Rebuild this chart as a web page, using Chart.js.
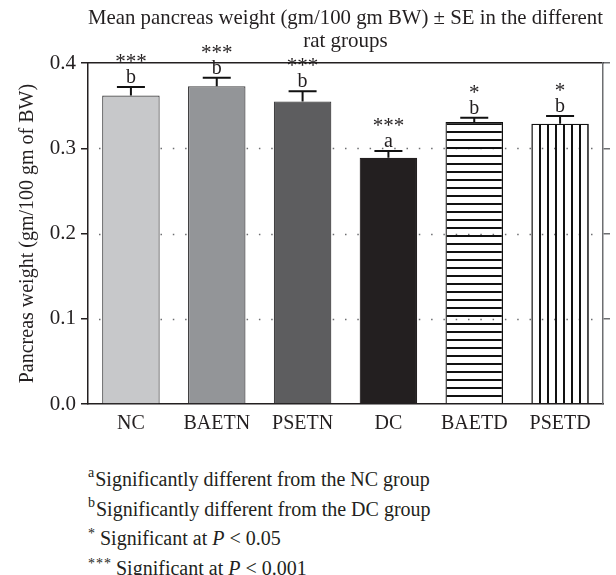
<!DOCTYPE html>
<html>
<head>
<meta charset="utf-8">
<script src="https://cdn.jsdelivr.net/npm/chart.js@4"></script>
<style>
  body { margin: 0; background: #fff; }
  #wrap { position: relative; width: 616px; height: 575px; }
  #chart { position: absolute; left: 0; top: 0; }
  .notes { position: absolute; left: 88px; top: 466px; font: 20px "Liberation Serif", serif; line-height: 26.5px; color: #231f20; }
  .notes div { white-space: nowrap; }
  .sup { position: relative; top: -9px; font-size: 14px; margin-right: 1px; }
  .st { position: relative; top: -7px; font-size: 14px; letter-spacing: 1px; margin-right: 4px; }
</style>
</head>
<body>
<div id="wrap">
  <canvas id="chart" width="616" height="445"></canvas>
  <div class="notes">
    <div><span class="sup">a</span>Significantly different from the NC group</div>
    <div><span class="sup">b</span>Significantly different from the DC group</div>
    <div><span class="st">*</span>Significant at <i>P</i> &lt; 0.05</div>
    <div><span class="st">***</span>Significant at <i>P</i> &lt; 0.001</div>
  </div>
</div>
<script>
var groups = ["NC", "BAETN", "PSETN", "DC", "BAETD", "PSETD"];
var meanWeight = [0.362, 0.373, 0.355, 0.289, 0.331, 0.329];
var seWeight = [0.010, 0.010, 0.012, 0.008, 0.005, 0.009];
var letterMarks = ["b", "b", "b", "a", "b", "b"];
var starCount = [3, 3, 3, 3, 1, 1];
var yTicks = [0, 0.1, 0.2, 0.3, 0.4];

var serif = '"Liberation Serif", serif';
var ink = '#231f20';

function stripes(vertical) {
    var c = document.createElement('canvas');
    c.width = 8; c.height = 8;
    var g = c.getContext('2d');
    g.fillStyle = '#111';
    if (vertical) g.fillRect(3, 0, 2, 8); else g.fillRect(0, 3, 8, 2);
    return g.createPattern(c, 'repeat');
}

var dottedGrid = {
    id: 'dottedGrid',
    beforeDatasetsDraw: function(chart) {
        var ctx = chart.ctx, area = chart.chartArea, y = chart.scales.y;
        ctx.save();
        ctx.strokeStyle = '#6d6e71';
        ctx.lineWidth = 1.5;
        ctx.setLineDash([1.5, 10.8]);
        yTicks.forEach(function(v) {
            if (v <= 0 || v >= 0.4) return;
            var py = Math.round(y.getPixelForValue(v)) + 0.5;
            ctx.beginPath();
            ctx.moveTo(area.left + 11, py);
            ctx.lineTo(area.right, py);
            ctx.stroke();
        });
        ctx.restore();
    }
};

var marks = {
    id: 'marks',
    afterDatasetsDraw: function(chart) {
        var ctx = chart.ctx, y = chart.scales.y;
        var bars = chart.getDatasetMeta(0).data;
        ctx.save();
        ctx.strokeStyle = '#111';
        ctx.lineWidth = 2;
        bars.forEach(function(bar, i) {
            var top = y.getPixelForValue(meanWeight[i] + seWeight[i]);
            ctx.beginPath();
            ctx.moveTo(bar.x, y.getPixelForValue(meanWeight[i]));
            ctx.lineTo(bar.x, top);
            ctx.moveTo(bar.x - 14, top);
            ctx.lineTo(bar.x + 14, top);
            ctx.stroke();
        });
        ctx.restore();
    },
    afterDraw: function(chart) {
        var ctx = chart.ctx, y = chart.scales.y;
        var bars = chart.getDatasetMeta(0).data;
        ctx.save();
        ctx.fillStyle = ink;
        ctx.textAlign = 'center';
        ctx.textBaseline = 'alphabetic';
        bars.forEach(function(bar, i) {
            var base = y.getPixelForValue(meanWeight[i] + seWeight[i]) - 4;
            ctx.font = '20px ' + serif;
            ctx.fillText(letterMarks[i], bar.x, base);
            ctx.font = '21px ' + serif;
            var n = starCount[i], pitch = 10.5;
            for (var k = 0; k < n; k++) {
                ctx.fillText('*', bar.x + (k - (n - 1) / 2) * pitch, base - 15);
            }
        });
        ctx.restore();
    }
};

var config = {
    type: 'bar',
    data: {
        labels: groups,
        datasets: [
            {
                label: "Pancreas weight",
                data: meanWeight,
                backgroundColor: ['#c7c8ca', '#939598', '#5d5d5f', '#231f20', stripes(false), stripes(true)],
                borderColor: ['#414042', '#414042', '#414042', '#231f20', '#111', '#111'],
                borderWidth: 1.2,
                categoryPercentage: 1,
                barPercentage: 0.67
            }
        ]
    },
    options: {
        responsive: false,
        animation: false,
        devicePixelRatio: 1,
        layout: { padding: 0 },
        plugins: {
            legend: { display: false },
            tooltip: { enabled: false },
            title: {
                display: true,
                fullSize: false,
                text: ["Mean pancreas weight (gm/100 gm BW) \u00b1 SE in the different", "rat groups"],
                color: ink,
                font: { family: serif, size: 21, weight: 'normal', lineHeight: 1.1 },
                padding: { top: 7, bottom: 10 }
            }
        },
        scales: {
            x: {
                position: 'bottom',
                grid: { drawOnChartArea: false, drawTicks: false },
                border: { color: '#231f20', width: 1.5 },
                ticks: { color: ink, font: { family: serif, size: 20 }, padding: 8 },
                afterFit: function(s) { s.height = 41; }
            },
            xTop: {
                type: 'category',
                labels: groups,
                position: 'top',
                grid: { drawOnChartArea: false, drawTicks: false },
                border: { color: '#231f20', width: 1.5 },
                ticks: { display: false },
                afterFit: function(s) { s.height = 0; }
            },
            y: {
                position: 'left',
                min: 0,
                max: 0.4,
                grid: { drawOnChartArea: false, tickLength: 7, color: '#231f20', lineWidth: 1.5 },
                border: { color: '#231f20', width: 1.5 },
                ticks: {
                    stepSize: 0.1,
                    padding: 5,
                    color: ink,
                    font: { family: serif, size: 21 },
                    callback: function(v) { return v.toFixed(1); }
                },
                title: {
                    display: true,
                    text: "Pancreas weight (gm/100 gm of BW)",
                    color: ink,
                    font: { family: serif, size: 20 },
                    padding: { top: 16, bottom: 0 }
                },
                afterFit: function(s) { s.width = 88; }
            },
            y2: {
                position: 'right',
                min: 0,
                max: 0.4,
                grid: {
                    drawOnChartArea: false,
                    tickLength: 7,
                    lineWidth: 1.5,
                    color: function(c) { return c.tick && c.tick.value === 0 ? 'rgba(0,0,0,0)' : '#6d6e71'; }
                },
                border: { color: '#6d6e71', width: 1.5 },
                ticks: { display: false, stepSize: 0.1 },
                afterFit: function(s) { s.width = 13; }
            }
        }
    },
    plugins: [dottedGrid, marks]
};

var myChart = new Chart(document.getElementById('chart'), config);
</script>
</body>
</html>
